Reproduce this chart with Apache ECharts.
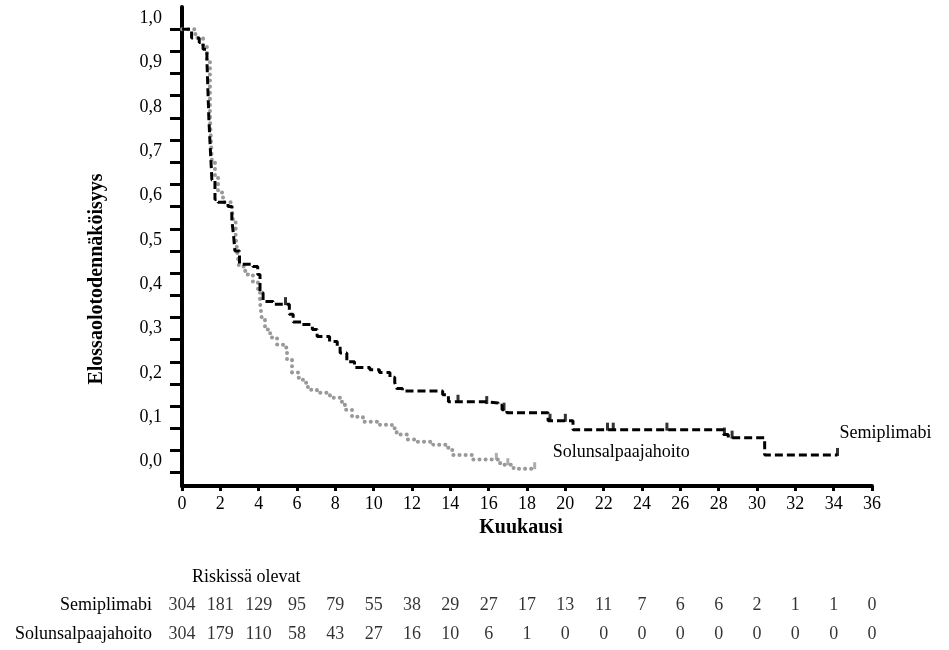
<!DOCTYPE html>
<html>
<head>
<meta charset="utf-8">
<script src="https://cdn.jsdelivr.net/npm/echarts@6.0.0/dist/echarts.min.js"></script>
<style>html,body{margin:0;padding:0;background:#fff;}#c{width:949px;height:650px;}</style>
</head>
<body>
<div id="c"></div>
<script>
// ---- data ----
var monthTicks = [0,2,4,6,8,10,12,14,16,18,20,22,24,26,28,30,32,34,36];
var yLabelValues = [0,0.1,0.2,0.3,0.4,0.5,0.6,0.7,0.8,0.9,1.0];
var yTickValues = [0,0.05,0.1,0.15,0.2,0.25,0.3,0.35,0.4,0.45,0.5,0.55,0.6,0.65,0.7,0.75,0.8,0.85,0.9,0.95,1.0];

var semiName = 'Semiplimabi';
var chemoName = 'Solunsalpaajahoito';

var semiCurve = [
  [0,1.0],[0.5,0.98],[0.9,0.97],[1.1,0.955],[1.3,0.93],[1.4,0.80],[1.46,0.745],[1.56,0.66],
  [1.72,0.616],[1.88,0.61],[2.4,0.60],[2.6,0.57],[2.7,0.53],[2.76,0.50],[3.0,0.47],[3.7,0.465],
  [3.95,0.447],[4.07,0.406],[4.23,0.386],[4.75,0.38],[5.6,0.357],[5.8,0.34],[6.25,0.334],
  [6.8,0.323],[7.05,0.307],[7.7,0.296],[8.1,0.285],[8.25,0.27],[8.6,0.25],[9.0,0.237],
  [9.8,0.232],[10.3,0.226],[10.85,0.215],[11.1,0.203],[11.2,0.19],[11.5,0.184],[13.6,0.176],
  [13.9,0.16],[15.9,0.157],[16.5,0.152],[16.7,0.142],[16.95,0.135],[19.1,0.117],[20.4,0.097],
  [28.25,0.086],[28.5,0.079],[30.4,0.04],[34.2,0.04]
];
var chemoCurve = [
  [0,1.0],[0.7,0.98],[1.1,0.96],[1.3,0.93],[1.46,0.80],[1.56,0.70],[1.72,0.668],[1.88,0.632],
  [2.14,0.61],[2.6,0.594],[2.66,0.57],[2.8,0.53],[2.87,0.503],[2.97,0.465],[3.3,0.447],[3.7,0.43],
  [3.96,0.415],[4.07,0.384],[4.17,0.345],[4.33,0.323],[4.6,0.305],[4.96,0.289],[5.27,0.282],
  [5.48,0.255],[5.74,0.226],[6.05,0.214],[6.31,0.203],[6.57,0.187],[7.04,0.18],[7.72,0.169],
  [8.24,0.16],[8.5,0.142],[8.87,0.126],[9.44,0.115],[10.33,0.108],[10.95,0.10],[11.2,0.086],
  [11.74,0.075],[12.26,0.07],[13.1,0.063],[13.8,0.056],[14.1,0.04],[15.2,0.03],[16.6,0.018],
  [17.3,0.009],[18.4,0.009]
];
var semiCensor = [[5.4,0.38],[14.4,0.16],[15.9,0.157],[16.8,0.142],[19.2,0.117],[20.0,0.117],
  [22.2,0.097],[22.5,0.097],[25.3,0.097],[28.3,0.086],[28.7,0.079],[34.2,0.04]];
var chemoCensor = [[16.4,0.03],[17.0,0.018],[18.4,0.009]];

var riskTitle = 'Riskissä olevat';
var semiAtRisk = [304,181,129,95,79,55,38,29,27,17,13,11,7,6,6,2,1,1,0];
var chemoAtRisk = [304,179,110,58,43,27,16,10,6,1,0,0,0,0,0,0,0,0,0];

var xTitle = 'Kuukausi';
var yTitle = 'Elossaolotodennäköisyys';

// ---- chart ----
var FONT = '"Liberation Serif", "Times New Roman", serif';
var chart = echarts.init(document.getElementById('c'));

var riskData = [];
monthTicks.forEach(function (m, i) {
  riskData.push([m, 1, semiAtRisk[i]]);
  riskData.push([m, 0, chemoAtRisk[i]]);
});

chart.setOption({
  animation: false,
  backgroundColor: '#fff',
  textStyle: { fontFamily: FONT, color: '#000' },
  grid: [
    { left: 182, top: 7, width: 690, height: 479, containLabel: false },
    { left: 182, top: 591, width: 690, height: 58, containLabel: false }
  ],
  xAxis: [
    {
      type: 'value', gridIndex: 0, min: 0, max: 36, interval: 2,
      axisLine: { show: true, onZero: false, lineStyle: { color: '#000', width: 4 } },
      axisTick: { show: true, length: 5, lineStyle: { color: '#000', width: 3 } },
      axisLabel: { fontFamily: FONT, fontSize: 18, color: '#000', margin: 9 },
      splitLine: { show: false }
    },
    {
      type: 'value', gridIndex: 1, min: 0, max: 36, show: false
    }
  ],
  yAxis: [
    {
      type: 'value', gridIndex: 0, min: -0.03, max: 1.05,
      axisLine: { show: true, onZero: false, lineStyle: { color: '#000', width: 4 } },
      axisTick: { show: true, length: 12, customValues: yTickValues, lineStyle: { color: '#000', width: 3 } },
      axisLabel: {
        customValues: yLabelValues, fontFamily: FONT, fontSize: 18, color: '#000', margin: 20,
        verticalAlign: 'bottom', padding: [0, 0, 2, 0],
        formatter: function (v) { return v.toFixed(1).replace('.', ','); }
      },
      splitLine: { show: false }
    },
    {
      type: 'category', gridIndex: 1, data: [chemoName, semiName],
      axisLine: { show: false }, axisTick: { show: false },
      axisLabel: { fontFamily: FONT, fontSize: 18, color: '#000', margin: 30 }
    }
  ],
  series: [
    {
      name: semiName, type: 'line', xAxisIndex: 0, yAxisIndex: 0, step: 'end',
      data: semiCurve, showSymbol: false, symbol: 'none', z: 3,
      lineStyle: { color: '#000', width: 3, type: [8, 4] },
      endLabel: { show: true, formatter: semiName, fontFamily: FONT, fontSize: 18, color: '#000',
        offset: [0, -22], distance: 2 }
    },
    {
      name: chemoName, type: 'line', xAxisIndex: 0, yAxisIndex: 0, step: 'end',
      data: chemoCurve, showSymbol: false, symbol: 'none', z: 2,
      lineStyle: { color: '#999', width: 4, type: [0.1, 6], cap: 'round' },
      endLabel: { show: true, formatter: chemoName, fontFamily: FONT, fontSize: 18, color: '#000',
        offset: [16, -16], distance: 2 }
    },
    {
      name: semiName + ' sensuroitu', type: 'scatter', xAxisIndex: 0, yAxisIndex: 0,
      data: semiCensor, symbol: 'rect', symbolSize: [3, 8], symbolOffset: [0, -3],
      itemStyle: { color: '#000' }, z: 4, silent: true
    },
    {
      name: chemoName + ' sensuroitu', type: 'scatter', xAxisIndex: 0, yAxisIndex: 0,
      data: chemoCensor, symbol: 'rect', symbolSize: [3, 7], symbolOffset: [0, -3],
      itemStyle: { color: '#999' }, z: 4, silent: true
    },
    {
      name: riskTitle, type: 'scatter', xAxisIndex: 1, yAxisIndex: 1,
      data: riskData, symbolSize: 0, silent: true,
      label: { show: true, position: 'inside', fontFamily: FONT, fontSize: 18, color: '#000',
        formatter: function (p) { return String(p.value[2]); } }
    }
  ],
  graphic: [
    { type: 'text', left: 192, top: 568,
      style: { text: riskTitle, font: '18px ' + FONT, fill: '#000' } },
    { type: 'text', x: 521, y: 528,
      style: { text: xTitle, font: 'bold 20px ' + FONT, fill: '#000', align: 'center', verticalAlign: 'middle' } },
    { type: 'text', x: 97, y: 279, rotation: Math.PI / 2,
      style: { text: yTitle, font: 'bold 20px ' + FONT, fill: '#000', align: 'center', verticalAlign: 'middle' } }
  ]
});
</script>
</body>
</html>
